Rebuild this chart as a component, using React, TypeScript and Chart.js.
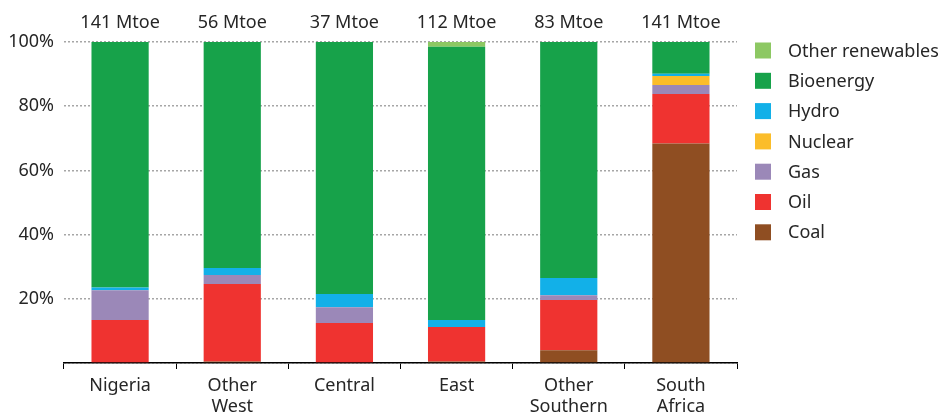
import React, { useEffect, useRef } from "react";
import { Chart, registerables } from "chart.js";

Chart.register(...registerables);

const categories: string[][] = [
  ["Nigeria"],
  ["Other", "West"],
  ["Central"],
  ["East"],
  ["Other", "Southern"],
  ["South", "Africa"],
];
const totals: string[] = ["141 Mtoe", "56 Mtoe", "37 Mtoe", "112 Mtoe", "83 Mtoe", "141 Mtoe"];

const coal = [0, 0.5, 0, 0.5, 4.0, 68.4];
const oil = [13.4, 24.1, 12.5, 10.7, 15.6, 15.4];
const gas = [9.3, 2.8, 4.9, 0, 1.5, 2.8];
const nuclear = [0, 0, 0, 0, 0, 2.8];
const hydro = [0.8, 2.2, 4.1, 2.2, 5.4, 0.7];
const bioenergy = [76.5, 70.4, 78.5, 85.1, 73.5, 9.9];
const otherRenewables = [0, 0, 0, 1.5, 0, 0];

const yTicks = [0, 20, 40, 60, 80, 100];

const FONT = "'Noto Sans', sans-serif";
const TEXT = "#262626";

const legendPlugin = {
  id: "rightLegend",
  afterDraw(chart: any) {
    const ctx = chart.ctx;
    const ds = [...chart.data.datasets].reverse();
    ctx.save();
    ctx.font = `18px ${FONT}`;
    ctx.textBaseline = "middle";
    ctx.textAlign = "left";
    ds.forEach((d: any, i: number) => {
      const top = 42.5 + i * 30.3;
      ctx.fillStyle = d.backgroundColor;
      ctx.fillRect(755, top, 16, 16);
      ctx.fillStyle = TEXT;
      ctx.fillText(d.label, 788, top + 9);
    });
    ctx.restore();
  },
};

export default function App() {
  const ref = useRef<HTMLCanvasElement | null>(null);
  useEffect(() => {
    if (!ref.current) return;
    const chart = new Chart(ref.current, {
      type: "bar",
      data: {
        labels: categories,
        datasets: [
          { label: "Coal", data: coal, backgroundColor: "#8f4e22" },
          { label: "Oil", data: oil, backgroundColor: "#ef3330" },
          { label: "Gas", data: gas, backgroundColor: "#9b88b8" },
          { label: "Nuclear", data: nuclear, backgroundColor: "#fbbd2a" },
          { label: "Hydro", data: hydro, backgroundColor: "#12b0e8" },
          { label: "Bioenergy", data: bioenergy, backgroundColor: "#17a24a" },
          { label: "Other renewables", data: otherRenewables, backgroundColor: "#8dc863" },
        ],
      },
      options: {
        responsive: false,
        animation: false,
        layout: { padding: { left: 0, right: 207, top: 0, bottom: 0 } },
        datasets: { bar: { categoryPercentage: 1, barPercentage: 0.51, borderWidth: 0 } },
        plugins: { legend: { display: false }, tooltip: { enabled: false } },
        scales: {
          x: {
            type: "category",
            position: "bottom",
            stacked: true,
            grid: { offset: true, drawOnChartArea: false, drawTicks: true, tickLength: 6, color: "#000", lineWidth: 1 },
            border: { display: true, color: "#000", width: 1.5 },
            ticks: { color: TEXT, font: { family: FONT, size: 18, lineHeight: 1.17 }, padding: 6, maxRotation: 0, autoSkip: false },
            afterFit(scale: any) { scale.height = 51; },
          },
          x2: {
            type: "category",
            position: "top",
            labels: totals,
            grid: { display: false },
            border: { display: false },
            ticks: { color: TEXT, font: { family: FONT, size: 18 }, padding: 0, maxRotation: 0, autoSkip: false },
            afterFit(scale: any) { scale.height = 42; },
          },
          y: {
            stacked: true,
            min: 0,
            max: 100,
            afterBuildTicks(scale: any) { scale.ticks = yTicks.map((v) => ({ value: v })); },
            ticks: {
              color: TEXT,
              font: { family: FONT, size: 18 },
              padding: 10,
              callback: (v: any) => (v === 0 ? "" : `${v}%`),
            },
            grid: { color: "#a6a6a6", lineWidth: 1.5, drawTicks: false },
            border: { display: false, dash: [2, 2] },
            afterFit(scale: any) { scale.width = 64; },
          },
        },
      },
      plugins: [legendPlugin],
    } as any);
    return () => chart.destroy();
  }, []);
  return (
    <div style={{ position: "fixed", left: 0, top: 0, width: 944, height: 414, background: "#fff" }}>
      <canvas ref={ref} width={944} height={414} />
    </div>
  );
}
